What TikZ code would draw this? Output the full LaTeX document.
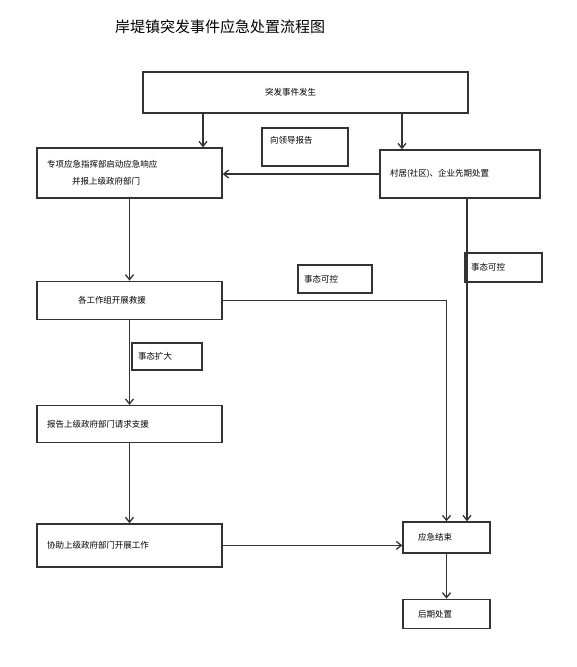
\documentclass[tikz,border=0pt]{standalone}
\usepackage{fontspec}
\setmainfont{Noto Sans CJK SC}
\usetikzlibrary{arrows.meta,positioning}

\begin{document}
\begin{tikzpicture}[
  x=1pt, y=-1pt,
  box/.style={draw=black!80, line width=1.3pt, align=left, inner xsep=10pt, inner ysep=0pt, font=\fontsize{8.5}{17}\selectfont},
  tag/.style={draw=black!80, line width=1.1pt, align=left, inner xsep=6pt, inner ysep=0pt, font=\fontsize{8.5}{12}\selectfont},
  arr/.style={-{Straight Barb[length=5pt,width=8pt]}, draw=black!80, line width=1.3pt}
]
\useasboundingbox[fill=white] (0,0) rectangle (576,667);
\node[font=\fontsize{15}{18}\selectfont] (title) at (220,27) {岸堤镇突发事件应急处置流程图};

% top and first row
\node[box, line width=1.8pt, text width=305pt, minimum height=41pt] (start) at (305.5,92.5) {\hspace*{112pt}突发事件发生};
\node[box, text width=165pt, minimum height=50pt] (cmd) at (129.5,173) {专项应急指挥部启动应急响应\\\hspace*{25pt}并报上级政府部门};
\node[tag, inner xsep=8pt, text width=70pt, text height=11pt, text depth=19pt, inner ysep=4pt] (report) at (305,147) {向领导报告};
\node[box, text width=140pt, minimum height=48pt] (village) at (460,174) {村居(社区)、企业先期处置};

% left column
\node[box, text width=165pt, minimum height=38pt, below=82pt of cmd] (rescue) {\hspace*{31pt}各工作组开展救援};
\node[box, text width=165pt, minimum height=37pt, below=85pt of rescue] (apply) {报告上级政府部门请求支援};
\node[box, text width=165pt, minimum height=43pt, below=80pt of apply] (assist) {协助上级政府部门开展工作};

% right column
\node[box, text width=67pt, minimum height=31pt] (end) at (446.5,537.5) {\hspace*{5pt}应急结束};
\node[box, text width=67pt, minimum height=29pt, below=45pt of end] (after) {\hspace*{5pt}后期处置};

% condition labels
\node[tag, text width=62pt, minimum height=28pt] (ctrlA) at (335,279) {事态可控};
\node[tag, text width=65pt, minimum height=29pt] (ctrlB) at (503.5,267.5) {事态可控};
\node[tag, text width=58pt, minimum height=27pt] (grow) at (167,356.5) {事态扩大};

\draw[arr] ([xshift=73.5pt]cmd.north |- start.south) -- ([xshift=73.5pt]cmd.north);
\draw[arr] ([xshift=-58pt]village.north |- start.south) -- ([xshift=-58pt]village.north);
\draw[arr] (village.west) -- (village.west -| cmd.east);
\draw[arr] (cmd) -- (rescue);
\draw[arr] (rescue.east) -| (end.north);
\draw[arr] ([xshift=20.5pt]end.north |- village.south) -- ([xshift=20.5pt]end.north);
\draw[arr] (rescue) -- (apply);
\draw[arr] (apply) -- (assist);
\draw[arr] (assist.east) -- (assist.east -| end.west);
\draw[arr] (end) -- (after);
\end{tikzpicture}
\end{document}
